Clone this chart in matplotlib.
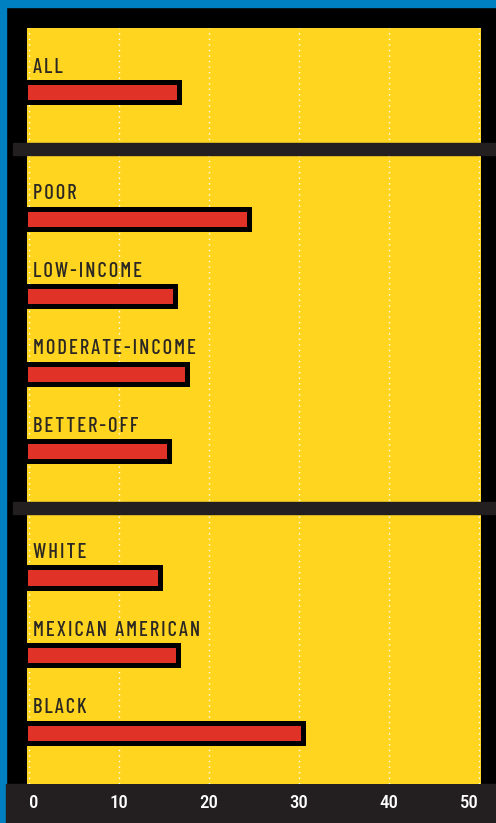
import matplotlib
matplotlib.use("Agg")
import matplotlib.pyplot as plt
from matplotlib.patches import Rectangle
import matplotlib.transforms as mtransforms

categories = ["ALL", "POOR", "LOW-INCOME", "MODERATE-INCOME", "BETTER-OFF",
              "WHITE", "MEXICAN AMERICAN", "BLACK"]
values = [16.7, 24.5, 16.2, 17.6, 15.6, 14.6, 16.6, 30.5]
groups = [0, 1, 1, 1, 1, 2, 2, 2]
xticks = [0, 10, 20, 30, 40, 50]

YELLOW = "#ffd520"
RED = "#e03226"
DARK = "#231f20"
BLUE = "#0080c0"
TEXT = "#2b2722"
FONT = ["Roboto Condensed", "DejaVu Sans"]
LFONT = ["Barlow Condensed", "DejaVu Sans"]

W, H, DPI = 496, 823, 100
fig = plt.figure(figsize=(W / DPI, H / DPI), dpi=DPI)
fig.patch.set_facecolor("black")

# blue border
fig.add_artist(Rectangle((0, 0), 6 / W, 1, transform=fig.transFigure, color=BLUE, zorder=0))
fig.add_artist(Rectangle((0, 1 - 7 / H), 1, 7 / H, transform=fig.transFigure, color=BLUE, zorder=0))
# dark bottom band
fig.add_artist(Rectangle((6 / W, 0), 1 - 6 / W, 39 / H, transform=fig.transFigure, color=DARK, zorder=0))

ax = fig.add_axes([27.3 / W, 39 / H, (480.7 - 27.3) / W, (784 - 28) / H])
ax.set_facecolor(YELLOW)

gap = 0.625
pos = [i + g * gap for i, g in enumerate(groups)]

x0 = -0.45
ax.barh(pos, [v - x0 for v in values], left=x0, height=0.258, color=RED,
        edgecolor="black", linewidth=3.6, zorder=3)

ax.set_xlim(-0.16, 50.22)
ax.set_ylim(8.911, -0.831)
ax.set_xticks(xticks)
ax.set_xticklabels([str(t) for t in xticks])
ax.tick_params(axis="x", length=0, pad=7.5, colors="white", labelsize=13.5)
for lbl in ax.get_xticklabels():
    lbl.set_fontfamily(FONT)
    lbl.set_fontweight(500)
tl = ax.get_xticklabels()
tl[0].set_ha("left")
tl[-1].set_ha("right")
ax.set_yticks([])
for s in ax.spines.values():
    s.set_visible(False)
ax.grid(axis="x", color="white", linestyle=(0, (1, 3)), linewidth=1.0, zorder=1)
ax.set_axisbelow(True)

# labels with letter spacing
def spaced(s):
    return "\u200a".join(s)

for p, c in zip(pos, categories):
    ax.annotate(spaced(c), xy=(0, p), xytext=(3.3, 14.0), textcoords="offset points",
                va="baseline", ha="left", fontsize=14.8, color=TEXT,
                fontfamily=LFONT, fontweight=500, zorder=4)

# separators between groups
trans = mtransforms.blended_transform_factory(fig.transFigure, ax.transData)
for i in range(1, len(pos)):
    if groups[i] != groups[i - 1]:
        mid = (pos[i] + pos[i - 1]) / 2 - 0.085
        ax.add_patch(Rectangle((13 / W, mid - 0.077), 1 - 13 / W, 0.154, transform=trans,
                               color=DARK, clip_on=False, zorder=5))

fig.savefig("out.png", dpi=DPI, facecolor=fig.get_facecolor())
